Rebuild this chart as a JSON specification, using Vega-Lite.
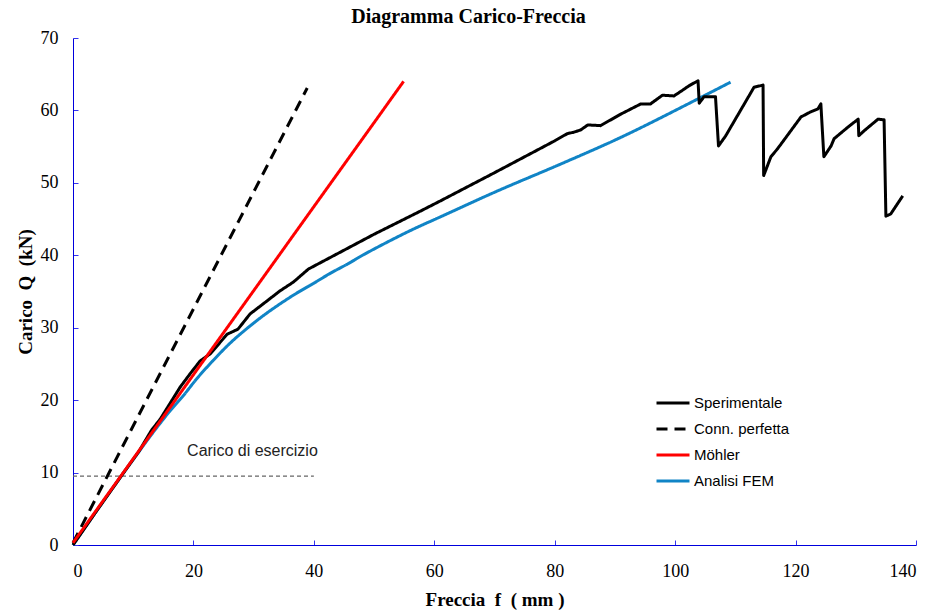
{
  "$schema": "https://vega.github.io/schema/vega-lite/v6.json",
  "width": 843,
  "height": 507,
  "autosize": {"type": "none"},
  "padding": {"left": 73, "top": 38, "right": 17, "bottom": 65},
  "background": "white",
  "title": {
    "text": "Diagramma Carico-Freccia",
    "font": "Liberation Serif",
    "fontSize": 20,
    "fontWeight": "bold",
    "color": "black",
    "anchor": "middle",
    "dx": -26,
    "offset": 2
  },
  "config": {
    "view": {"stroke": null},
    "axis": {
      "domainColor": "#0000DD",
      "tickColor": "#3333EE",
      "tickSize": -5,
      "grid": false,
      "labelFont": "Liberation Serif",
      "labelFontSize": 18,
      "labelColor": "black",
      "titleFont": "Liberation Serif",
      "titleFontSize": 19,
      "titleFontWeight": "bold",
      "titleColor": "black"
    }
  },
  "datasets": {
    "curves": [
      {"serie": "Sperimentale", "f": 0, "Q": 0},
      {"serie": "Sperimentale", "f": 4, "Q": 4.8},
      {"serie": "Sperimentale", "f": 8, "Q": 9.5},
      {"serie": "Sperimentale", "f": 11, "Q": 13},
      {"serie": "Sperimentale", "f": 13, "Q": 15.8},
      {"serie": "Sperimentale", "f": 14.5, "Q": 17.4},
      {"serie": "Sperimentale", "f": 16, "Q": 19.4},
      {"serie": "Sperimentale", "f": 17.8, "Q": 21.8},
      {"serie": "Sperimentale", "f": 19.5, "Q": 23.7},
      {"serie": "Sperimentale", "f": 21.1, "Q": 25.4},
      {"serie": "Sperimentale", "f": 22.8, "Q": 26.4},
      {"serie": "Sperimentale", "f": 25.6, "Q": 29.1},
      {"serie": "Sperimentale", "f": 27.4, "Q": 29.8},
      {"serie": "Sperimentale", "f": 29.4, "Q": 31.9},
      {"serie": "Sperimentale", "f": 31.6, "Q": 33.3},
      {"serie": "Sperimentale", "f": 34.4, "Q": 35.1},
      {"serie": "Sperimentale", "f": 36.6, "Q": 36.3},
      {"serie": "Sperimentale", "f": 39.1, "Q": 38.1},
      {"serie": "Sperimentale", "f": 41.6, "Q": 39.2},
      {"serie": "Sperimentale", "f": 50, "Q": 42.9},
      {"serie": "Sperimentale", "f": 57.7, "Q": 46.1},
      {"serie": "Sperimentale", "f": 61, "Q": 47.5},
      {"serie": "Sperimentale", "f": 70, "Q": 51.4},
      {"serie": "Sperimentale", "f": 80, "Q": 55.8},
      {"serie": "Sperimentale", "f": 82.1, "Q": 56.8},
      {"serie": "Sperimentale", "f": 83.2, "Q": 57},
      {"serie": "Sperimentale", "f": 84.3, "Q": 57.3},
      {"serie": "Sperimentale", "f": 85.5, "Q": 58},
      {"serie": "Sperimentale", "f": 87.6, "Q": 57.9},
      {"serie": "Sperimentale", "f": 91, "Q": 59.5},
      {"serie": "Sperimentale", "f": 94.3, "Q": 60.9},
      {"serie": "Sperimentale", "f": 95.9, "Q": 60.9},
      {"serie": "Sperimentale", "f": 97.9, "Q": 62.1},
      {"serie": "Sperimentale", "f": 99.8, "Q": 62},
      {"serie": "Sperimentale", "f": 100.9, "Q": 62.6},
      {"serie": "Sperimentale", "f": 102.3, "Q": 63.4},
      {"serie": "Sperimentale", "f": 103.8, "Q": 64.1},
      {"serie": "Sperimentale", "f": 104, "Q": 61},
      {"serie": "Sperimentale", "f": 104.8, "Q": 61.9},
      {"serie": "Sperimentale", "f": 106.7, "Q": 61.9},
      {"serie": "Sperimentale", "f": 107.2, "Q": 55.1},
      {"serie": "Sperimentale", "f": 108.4, "Q": 56.5},
      {"serie": "Sperimentale", "f": 113.1, "Q": 63.2},
      {"serie": "Sperimentale", "f": 114.6, "Q": 63.5},
      {"serie": "Sperimentale", "f": 114.7, "Q": 51},
      {"serie": "Sperimentale", "f": 115.9, "Q": 53.6},
      {"serie": "Sperimentale", "f": 117, "Q": 54.7},
      {"serie": "Sperimentale", "f": 120.9, "Q": 59.1},
      {"serie": "Sperimentale", "f": 122.5, "Q": 59.8},
      {"serie": "Sperimentale", "f": 123.7, "Q": 60.2},
      {"serie": "Sperimentale", "f": 124.2, "Q": 60.9},
      {"serie": "Sperimentale", "f": 124.7, "Q": 53.6},
      {"serie": "Sperimentale", "f": 125.9, "Q": 55.1},
      {"serie": "Sperimentale", "f": 126.4, "Q": 56.1},
      {"serie": "Sperimentale", "f": 128.7, "Q": 57.7},
      {"serie": "Sperimentale", "f": 130.4, "Q": 58.8},
      {"serie": "Sperimentale", "f": 130.5, "Q": 56.5},
      {"serie": "Sperimentale", "f": 131.4, "Q": 57.2},
      {"serie": "Sperimentale", "f": 133.7, "Q": 58.8},
      {"serie": "Sperimentale", "f": 134.7, "Q": 58.7},
      {"serie": "Sperimentale", "f": 135, "Q": 45.4},
      {"serie": "Sperimentale", "f": 135.8, "Q": 45.7},
      {"serie": "Sperimentale", "f": 137.8, "Q": 48.2},
      {"serie": "Conn. perfetta", "f": 0, "Q": 0.3},
      {"serie": "Conn. perfetta", "f": 38.9, "Q": 63.1},
      {"serie": "Möhler", "f": 0, "Q": 0.3},
      {"serie": "Möhler", "f": 54.9, "Q": 64}
    ],
    "fem": [
      {"serie": "Analisi FEM", "f": 0, "Q": 0},
      {"serie": "Analisi FEM", "f": 5, "Q": 6},
      {"serie": "Analisi FEM", "f": 10, "Q": 11.8},
      {"serie": "Analisi FEM", "f": 14, "Q": 16.3},
      {"serie": "Analisi FEM", "f": 16, "Q": 18.4},
      {"serie": "Analisi FEM", "f": 18.3, "Q": 20.6},
      {"serie": "Analisi FEM", "f": 20.5, "Q": 22.9},
      {"serie": "Analisi FEM", "f": 23.3, "Q": 25.5},
      {"serie": "Analisi FEM", "f": 26, "Q": 27.8},
      {"serie": "Analisi FEM", "f": 28.9, "Q": 29.9},
      {"serie": "Analisi FEM", "f": 31.5, "Q": 31.6},
      {"serie": "Analisi FEM", "f": 34.4, "Q": 33.3},
      {"serie": "Analisi FEM", "f": 37, "Q": 34.7},
      {"serie": "Analisi FEM", "f": 39.9, "Q": 36.1},
      {"serie": "Analisi FEM", "f": 42.7, "Q": 37.5},
      {"serie": "Analisi FEM", "f": 45.6, "Q": 38.8},
      {"serie": "Analisi FEM", "f": 48.3, "Q": 40.1},
      {"serie": "Analisi FEM", "f": 51, "Q": 41.3},
      {"serie": "Analisi FEM", "f": 56.5, "Q": 43.6},
      {"serie": "Analisi FEM", "f": 61, "Q": 45.3},
      {"serie": "Analisi FEM", "f": 70, "Q": 48.7},
      {"serie": "Analisi FEM", "f": 81, "Q": 52.6},
      {"serie": "Analisi FEM", "f": 90, "Q": 55.9},
      {"serie": "Analisi FEM", "f": 103.8, "Q": 61.6},
      {"serie": "Analisi FEM", "f": 109.2, "Q": 63.9}
    ],
    "esercizio": [
      {"f": 0, "Q": 9.5},
      {"f": 40, "Q": 9.5}
    ],
    "etichetta": [
      {"f": 29.8, "Q": 13, "label": "Carico di esercizio"}
    ]
  },
  "layer": [
    {
      "data": {"name": "esercizio"},
      "mark": {"type": "line", "color": "#666666", "strokeWidth": 1.2, "strokeDash": [4, 3]},
      "encoding": {
        "x": {"field": "f", "type": "quantitative", "scale": {"domain": [0, 140]},
          "axis": {"values": [0, 20, 40, 60, 80, 100, 120, 140], "title": "Freccia\u00a0\u00a0f\u00a0\u00a0(\u00a0mm\u00a0)", "labelPadding": 22, "titlePadding": 10}},
        "y": {"field": "Q", "type": "quantitative", "scale": {"domain": [0, 70]},
          "axis": {"values": [0, 10, 20, 30, 40, 50, 60, 70], "title": "Carico\u00a0\u00a0Q\u00a0\u00a0(kN)", "labelPadding": 20, "titlePadding": 5}}
      }
    },
    {
      "data": {"name": "etichetta"},
      "mark": {"type": "text", "font": "Liberation Sans", "fontSize": 16, "color": "#222222"},
      "encoding": {
        "x": {"field": "f", "type": "quantitative"},
        "y": {"field": "Q", "type": "quantitative"},
        "text": {"field": "label"}
      }
    },
    {
      "data": {"name": "fem"},
      "mark": {"type": "line", "strokeWidth": 3, "interpolate": "monotone"},
      "encoding": {
        "x": {"field": "f", "type": "quantitative"},
        "y": {"field": "Q", "type": "quantitative"},
        "color": {"field": "serie", "type": "nominal"},
        "strokeDash": {"field": "serie", "type": "nominal"}
      }
    },
    {
      "data": {"name": "curves"},
      "mark": {"type": "line", "strokeWidth": 3, "strokeJoin": "round"},
      "encoding": {
        "x": {"field": "f", "type": "quantitative"},
        "y": {"field": "Q", "type": "quantitative"},
        "color": {
          "field": "serie", "type": "nominal",
          "scale": {"domain": ["Sperimentale", "Conn. perfetta", "Möhler", "Analisi FEM"], "range": ["#000000", "#000000", "#FF0000", "#1084C6"]},
          "legend": {
            "title": null, "orient": "none", "legendX": 582, "legendY": 347,
            "symbolType": "stroke", "symbolSize": 1089, "symbolStrokeWidth": 3,
            "labelFont": "Liberation Sans", "labelFontSize": 15, "labelColor": "black",
            "labelOffset": 3, "rowPadding": -16, "padding": 0
          }
        },
        "strokeDash": {
          "field": "serie", "type": "nominal",
          "scale": {"domain": ["Sperimentale", "Conn. perfetta", "Möhler", "Analisi FEM"], "range": [[1, 0], [11, 7], [1, 0], [1, 0]]},
          "legend": {
            "title": null, "orient": "none", "legendX": 582, "legendY": 347,
            "symbolType": "stroke", "symbolSize": 1089, "symbolStrokeWidth": 3,
            "labelFont": "Liberation Sans", "labelFontSize": 15, "labelColor": "black",
            "labelOffset": 3, "rowPadding": -16, "padding": 0
          }
        }
      }
    }
  ]
}
